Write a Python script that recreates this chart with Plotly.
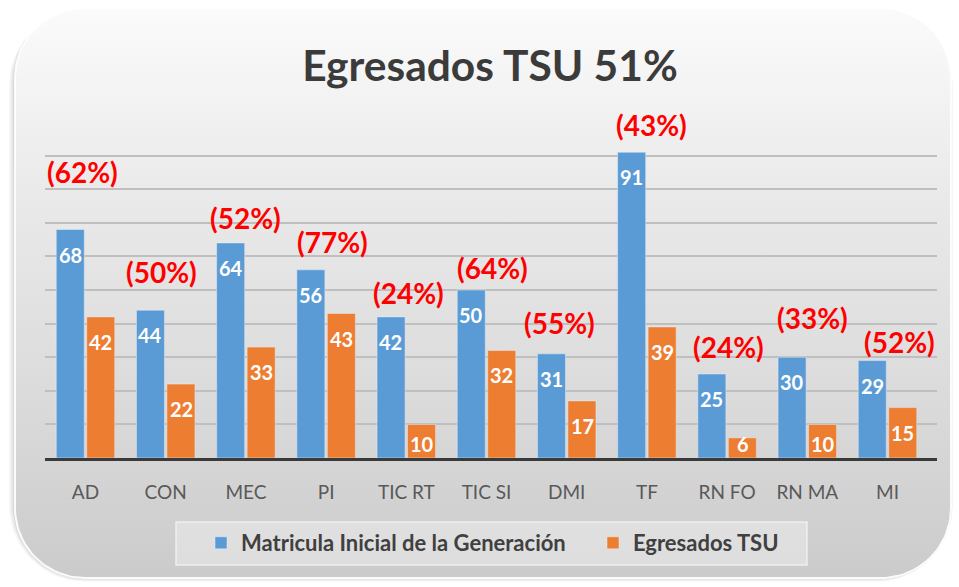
import numpy as np
import plotly.graph_objects as go

# ---------------- data ----------------
categories = ["AD", "CON", "MEC", "PI", "TIC RT", "TIC SI", "DMI", "TF", "RN FO", "RN MA", "MI"]
matricula = [68, 44, 64, 56, 42, 50, 31, 91, 25, 30, 29]
egresados = [42, 22, 33, 43, 10, 32, 17, 39, 6, 10, 15]
porcentajes = ["(62%)", "(50%)", "(52%)", "(77%)", "(24%)", "(64%)", "(55%)", "(43%)", "(24%)", "(33%)", "(52%)"]
series_names = ["Matricula Inicial de la Generación", "Egresados TSU"]
title_text = "Egresados TSU 51%"

# ---------------- style ----------------
pct_dy = [17, 11.4, 7.4, 8.3, 7.1, 6.5, 9.2, 8.1, 8, 11.7, 5.5]   # data units above blue bar
pct_dx = [-3, -4, 0, 6, 2, 6, -7, 5, 1, 5, 12]                   # px shift
BLUE, ORANGE = "#5B9BD5", "#ED7D31"
FONT = "Lato"

W, H = 959, 587
PL, PR, PT, PB = 45, 937, 122, 458
YMAX = 100
px_per_unit = (PB - PT) / YMAX


def rrect(x0, y0, x1, y1, r, n=30):
    xs, ys = [], []
    corners = [(x1 - r, y0 + r, -90, 0), (x1 - r, y1 - r, 0, 90),
               (x0 + r, y1 - r, 90, 180), (x0 + r, y0 + r, 180, 270)]
    for cx, cy, a0, a1 in corners:
        t = np.radians(np.linspace(a0, a1, n))
        xs += list(cx + r * np.cos(t))
        ys += list(cy + r * np.sin(t))
    xs.append(xs[0]); ys.append(ys[0])
    return xs, ys


fig = go.Figure()

# soft shadow layers
for i, a in enumerate([0.04, 0.05, 0.07]):
    d = 6 - 2 * i
    xs, ys = rrect(15 - d, 8 + d * 0.3, 951 + d * 0.3, 578 + d * 0.6, 70 + d)
    fig.add_trace(go.Scatter(x=xs, y=ys, mode="lines", fill="toself",
                             line=dict(width=0), fillcolor=f"rgba(0,0,0,{a})",
                             hoverinfo="skip", showlegend=False, xaxis="x", yaxis="y"))

# panel with vertical gradient
xs, ys = rrect(15, 8, 951, 578, 70)
fig.add_trace(go.Scatter(
    x=xs, y=ys, mode="lines", fill="toself",
    line=dict(width=2, color="rgba(255,255,255,0.9)"),
    fillgradient=dict(type="vertical", start=8, stop=578,
                      colorscale=[[0, "#fbfbfb"], [0.3, "#ebebeb"], [0.7, "#dadada"], [1, "#cbcbcb"]]),
    hoverinfo="skip", showlegend=False, xaxis="x", yaxis="y"))

# bars
fig.add_trace(go.Bar(x=categories, y=matricula, name=series_names[0], marker_color=BLUE,
                     xaxis="x2", yaxis="y2", hoverinfo="x+y", legend="legend"))
fig.add_trace(go.Bar(x=categories, y=egresados, name=series_names[1], marker_color=ORANGE,
                     xaxis="x2", yaxis="y2", hoverinfo="x+y", legend="legend2"))

annotations = []
for ci, cat in enumerate(categories):
    for vals, sh in ((matricula, -15.4), (egresados, 15.4)):
        v = vals[ci]
        hpx = v * px_per_unit
        annotations.append(dict(
            x=cat, y=v, xref="x2", yref="y2", text=str(v), showarrow=False,
            xshift=sh, yshift=-min(25, hpx - 14), yanchor="middle",
            font=dict(family=FONT, size=20, color="white", weight="bold")))
    annotations.append(dict(
        x=cat, y=matricula[ci] + pct_dy[ci], xref="x2", yref="y2", text=porcentajes[ci],
        showarrow=False, xshift=pct_dx[ci], yanchor="middle",
        font=dict(family=FONT, size=28, color="#FF0000", weight="bold")))

legend_font = dict(family=FONT, size=22, color="#404040", weight="bold")

fig.update_layout(
    width=W, height=H,
    margin=dict(l=0, r=0, t=0, b=0),
    paper_bgcolor="white", plot_bgcolor="rgba(0,0,0,0)",
    barmode="group", bargap=0.24, bargroupgap=0.08,
    title=dict(text=title_text, x=490 / W, y=1 - 66 / H, xanchor="center", yanchor="middle",
               font=dict(family=FONT, size=42.5, color="#3b3b3b", weight="bold")),
    xaxis=dict(domain=[0, 1], range=[0, W], visible=False, fixedrange=True),
    yaxis=dict(domain=[0, 1], range=[H, 0], visible=False, fixedrange=True),
    xaxis2=dict(domain=[PL / W, PR / W], anchor="y2", showline=True, linecolor="#3a3a3a",
                linewidth=2.5, ticks="", showgrid=False, ticklabelstandoff=15,
                tickfont=dict(family=FONT, size=19, color="#595959")),
    yaxis2=dict(domain=[1 - PB / H, 1 - PT / H], anchor="x2", range=[0, YMAX], dtick=10,
                showgrid=True, gridcolor="#bfbfbf", gridwidth=1.5, zeroline=False,
                showticklabels=False),
    legend=dict(orientation="h", x=201 / W, xanchor="left", y=1 - 543 / H, yanchor="middle",
                bgcolor="rgba(0,0,0,0)", font=legend_font),
    legend2=dict(orientation="h", x=593 / W, xanchor="left", y=1 - 543 / H, yanchor="middle",
                 bgcolor="rgba(0,0,0,0)", font=legend_font),
    shapes=[dict(type="rect", xref="paper", yref="paper", layer="above",
                 x0=176 / W, x1=807 / W, y0=1 - 565 / H, y1=1 - 522 / H,
                 fillcolor="rgba(236,236,236,0.55)", line=dict(color="rgba(245,245,245,0.8)", width=1.5))],
    annotations=annotations,
)

fig.write_html("out.html", config={"displayModeBar": False},
               post_script="document.body.style.margin='0';")
